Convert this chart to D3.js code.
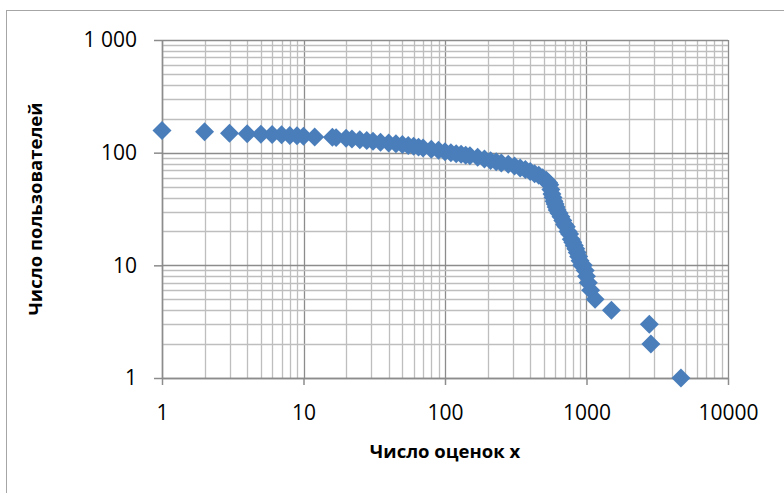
<!DOCTYPE html>
<html>
<head>
<meta charset="utf-8">
<script src="https://cdn.jsdelivr.net/npm/d3@7"></script>
<style>
  body { margin: 0; background: #fff; }
  text { font-family: "Open Sans", "Noto Sans", sans-serif; fill: #000; }
</style>
</head>
<body>
<div id="viz"></div>
<script>
const width = 784;
const height = 493;
const margin = {top: 40, right: 56, bottom: 115, left: 162};
const colorMarker = '#4A7EBB';
const colorMajor = '#8C8C8C';
const colorMinor = '#BEBEBE';

// Number of ratings (x) and number of users (y)
const ratings = [
  1, 2, 3, 4, 5, 6, 7, 8, 9, 10, 12, 16, 17, 20, 22, 25, 28, 31, 35, 40,
  45, 50, 55, 60, 65, 70, 80, 90, 100, 110, 120, 130, 140, 150, 170, 190,
  210, 230, 250, 280, 310, 340, 370, 400, 430, 460, 490, 520, 540, 550,
  560, 570, 580, 590, 600, 610, 620, 640, 660, 680, 700, 720, 740, 760,
  780, 800, 820, 840, 860, 880, 900, 925, 950, 980, 1000, 1030, 1070,
  1150, 1500, 2780, 2850, 4650
];
const users = [
  157, 153, 149, 147, 146, 145, 144, 142, 141, 140, 138, 137, 136, 134, 132, 130, 128, 126, 124, 122,
  120, 118, 116, 114, 112, 110, 107, 105, 102, 100, 98, 97, 95, 94, 91, 88,
  85, 83, 81, 79, 76, 73, 71, 68, 65, 63, 60, 57, 54, 52,
  47, 43, 40, 37, 35, 33, 31, 29, 27, 25, 23, 22, 20, 19,
  17, 16, 15, 14, 13, 12, 11, 10, 10, 9, 8, 7, 6,
  5, 4, 3, 2, 1
];
const xTicks = [1, 10, 100, 1000, 10000];
const xTickLabels = ['1', '10', '100', '1000', '10000'];
const yTicks = [1, 10, 100, 1000];
const yTickLabels = ['1', '10', '100', '1 000'];
const xTitle = 'Число оценок x';
const yTitle = 'Число пользователей';

const data = ratings.map((r, i) => ({x: r, y: users[i]}));

const xScale = d3.scaleLog()
  .domain([1, 10000])
  .range([margin.left, width - margin.right]);
const yScale = d3.scaleLog()
  .domain([1, 1000])
  .range([height - margin.bottom, margin.top]);

const svg = d3.select('#viz')
  .append('svg')
    .attr('width', width)
    .attr('height', height);

// chart area border (only top and left visible in the frame)
svg.append('rect')
  .attr('x', 6.5)
  .attr('y', 10.5)
  .attr('width', width + 20)
  .attr('height', height + 20)
  .attr('fill', 'none')
  .attr('stroke', '#A6A6A6');

// gridlines
const isMajor = v => Math.abs(Math.log10(v) - Math.round(Math.log10(v))) < 1e-9;
const grid = svg.append('g').attr('class', 'grid');
const xGrid = xScale.ticks().sort((a, b) => isMajor(a) - isMajor(b));
const yGrid = yScale.ticks().sort((a, b) => isMajor(a) - isMajor(b));
grid.selectAll('.vgrid')
  .data(xGrid)
  .join('line')
    .attr('class', 'vgrid')
    .attr('x1', d => Math.round(xScale(d)) + 0.5)
    .attr('x2', d => Math.round(xScale(d)) + 0.5)
    .attr('y1', yScale(1000))
    .attr('y2', yScale(1))
    .attr('stroke', d => isMajor(d) ? colorMajor : colorMinor)
    .attr('stroke-width', 1.3);
grid.selectAll('.hgrid')
  .data(yGrid)
  .join('line')
    .attr('class', 'hgrid')
    .attr('x1', xScale(1))
    .attr('x2', xScale(10000))
    .attr('y1', d => Math.round(yScale(d)) + 0.5)
    .attr('y2', d => Math.round(yScale(d)) + 0.5)
    .attr('stroke', d => isMajor(d) ? colorMajor : colorMinor)
    .attr('stroke-width', 1.3);

// axes
const xAxis = d3.axisBottom(xScale)
  .tickValues(xTicks)
  .tickFormat((d, i) => xTickLabels[i])
  .tickSize(7)
  .tickSizeOuter(0)
  .tickPadding(20);
const yAxis = d3.axisLeft(yScale)
  .tickValues(yTicks)
  .tickFormat((d, i) => yTickLabels[i])
  .tickSize(8)
  .tickSizeOuter(0)
  .tickPadding(17);

const xAxisGroup = svg.append('g')
  .attr('transform', `translate(0, ${height - margin.bottom})`)
  .call(xAxis);
const yAxisGroup = svg.append('g')
  .attr('transform', `translate(${margin.left}, 0)`)
  .call(yAxis);
[xAxisGroup, yAxisGroup].forEach(g => {
  g.select('.domain').attr('stroke', colorMajor).attr('stroke-width', 1.5);
  g.selectAll('.tick line').attr('stroke', colorMajor).attr('stroke-width', 1.5);
  g.selectAll('.tick text')
    .attr('fill', '#000')
    .style('font-family', '"Open Sans", sans-serif')
    .style('font-size', '21px');
});

// titles
svg.append('text')
  .attr('x', (xScale(1) + xScale(10000)) / 2)
  .attr('y', 458)
  .attr('text-anchor', 'middle')
  .style('font-size', '18.5px')
  .style('font-weight', 'bold')
  .text(xTitle);
svg.append('text')
  .attr('transform', `translate(42, ${(yScale(1) + yScale(1000)) / 2}) rotate(-90)`)
  .attr('text-anchor', 'middle')
  .style('font-size', '18.5px')
  .style('font-weight', 'bold')
  .text(yTitle);

// markers
const diamond = d3.symbol().type(d3.symbolSquare).size(180);
svg.append('g')
  .attr('class', 'points')
  .selectAll('path')
  .data(data)
  .join('path')
    .attr('d', diamond)
    .attr('transform', d => `translate(${xScale(d.x)}, ${yScale(d.y)}) rotate(45)`)
    .attr('fill', colorMarker);
</script>
</body>
</html>
